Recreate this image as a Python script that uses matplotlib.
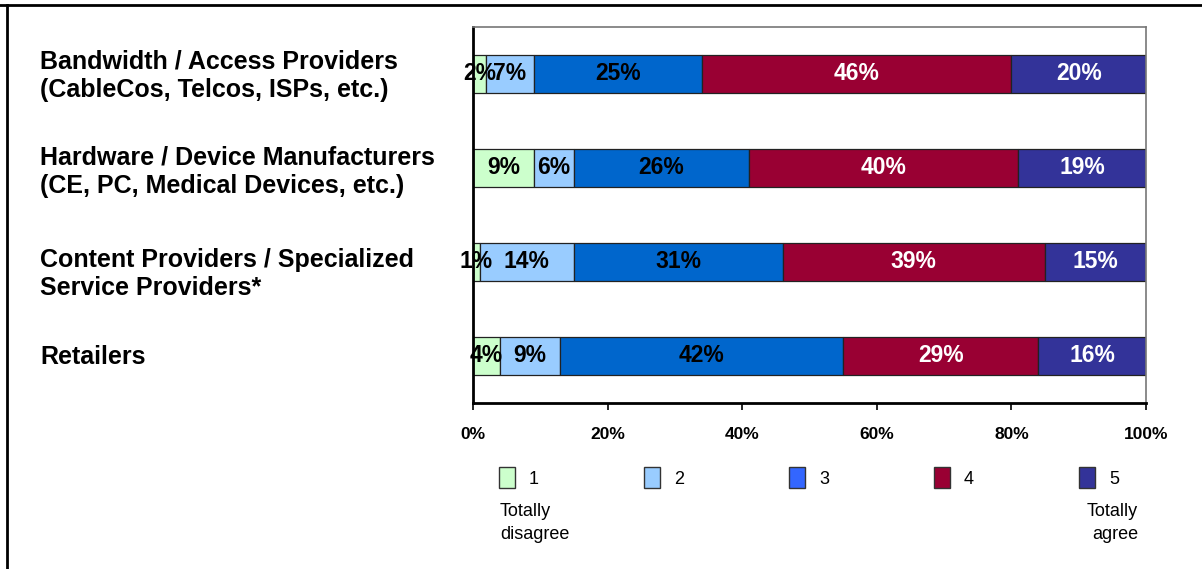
import numpy as np
import matplotlib.pyplot as plt
from matplotlib.patches import Rectangle
from matplotlib.transforms import blended_transform_factory

plt.rcParams['font.family'] = ['Liberation Sans', 'DejaVu Sans']

# survey answers per sector, share of respondents (%) for ratings 1..5
categories = [
    "Bandwidth / Access Providers\n(CableCos, Telcos, ISPs, etc.)",
    "Hardware / Device Manufacturers\n(CE, PC, Medical Devices, etc.)",
    "Content Providers / Specialized\nService Providers*",
    "Retailers",
]
rating_1 = [2, 9, 1, 4]
rating_2 = [7, 6, 14, 9]
rating_3 = [25, 26, 31, 42]
rating_4 = [46, 40, 39, 29]
rating_5 = [20, 19, 15, 16]
ratings = ["1", "2", "3", "4", "5"]
x_ticks = [0, 20, 40, 60, 80, 100]

series = [rating_1, rating_2, rating_3, rating_4, rating_5]
bar_colors = ["#CCFFCC", "#99CCFF", "#0066CC", "#990033", "#333399"]
legend_colors = ["#CCFFCC", "#99CCFF", "#3366FF", "#990033", "#333399"]
text_colors = ["black", "black", "black", "white", "white"]
label_shift = [0.02, 0.04, 0.13, 0.01]  # nudges for the row captions

W, H = 1202, 569
fig = plt.figure(figsize=(W / 100, H / 100), dpi=100)


def fx(x):
    return x / W


def fy(y):
    return 1 - y / H


ax = fig.add_axes([fx(473), fy(403), fx(1146) - fx(473), (403 - 27) / H])

y = np.arange(len(categories))
left = np.zeros(len(categories))
for vals, c, tc in zip(series, bar_colors, text_colors):
    vals = np.array(vals)
    ax.barh(y, vals, left=left, height=0.41, color=c, edgecolor="#222222",
            linewidth=0.9, zorder=2)
    for yi, l, v in zip(y, left, vals):
        ax.text(l + v / 2, yi, f"{v}%", ha="center", va="center",
                fontsize=16.5, fontweight="bold", color=tc, zorder=3)
    left += vals

ax.set_xlim(0, 100)
ax.set_ylim(3.5, -0.5)
ax.set_xticks(x_ticks)
ax.set_xticklabels([f"{t}%" for t in x_ticks], fontsize=12.5, fontweight="bold")
ax.tick_params(axis="x", direction="out", length=5, width=1.2, pad=12)
ax.set_yticks([])
for s in ["top", "right"]:
    ax.spines[s].set_color("#777777")
    ax.spines[s].set_linewidth(1.2)
for s in ["left", "bottom"]:
    ax.spines[s].set_color("black")
    ax.spines[s].set_linewidth(2)

# row captions on the left
trans = blended_transform_factory(fig.transFigure, ax.transData)
for yi, name, sh in zip(y, categories, label_shift):
    fig.text(fx(40), yi + sh, name, transform=trans, ha="left", va="center",
             fontsize=18, fontweight="bold", linespacing=1.2)

# legend row
for i, (r, c) in enumerate(zip(ratings, legend_colors)):
    x0 = 499 + i * 145
    fig.add_artist(Rectangle((fx(x0), fy(488)), 16 / W, 21 / H,
                             transform=fig.transFigure, facecolor=c,
                             edgecolor="#333333", linewidth=1))
    fig.text(fx(x0 + 30), fy(479), r, ha="left", va="center", fontsize=13)

fig.text(fx(500), fy(523), "Totally\ndisagree", ha="left", va="center",
         fontsize=13, linespacing=1.4)
fig.text(fx(1138), fy(523), "Totally\nagree", ha="right", va="center",
         fontsize=13, linespacing=1.4, multialignment="right")

# outer frame lines
fig.add_artist(plt.Line2D([0, 1], [fy(4.5), fy(4.5)], transform=fig.transFigure,
                          color="black", linewidth=2))
fig.add_artist(plt.Line2D([fx(6.5), fx(6.5)], [0, fy(4.5)], transform=fig.transFigure,
                          color="black", linewidth=2))

fig.savefig("out.png", dpi=100)
